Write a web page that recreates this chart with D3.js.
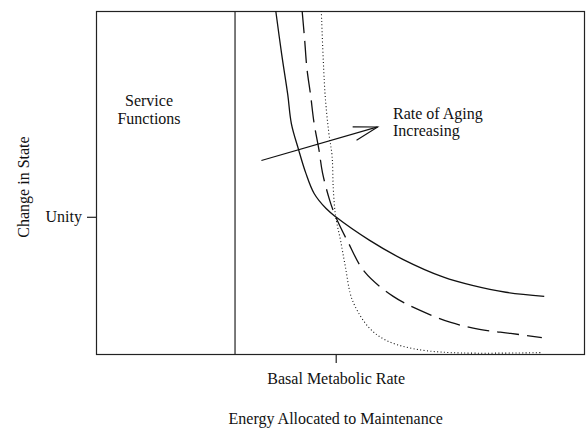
<!DOCTYPE html>
<html>
<head>
<meta charset="utf-8">
<script src="https://cdn.jsdelivr.net/npm/d3@7"></script>
<style>
  body { margin: 0; background: #fff; }
  svg text { font-family: "Liberation Serif", "Times New Roman", Times, serif; fill: #111; }
</style>
</head>
<body>
<div id="chart"></div>
<script>
// Energy allocated to maintenance (x, basal metabolic rate = 1) vs change in state (y, unity = 1)
const solidCurve = [
    [0.75, 2.50], [0.775, 2.18], [0.80, 1.89], [0.815, 1.68], [0.845, 1.49], [0.875, 1.32],
    [0.91, 1.17], [0.96, 1.06], [1.00, 1.00], [1.14, 0.83], [1.28, 0.69], [1.45, 0.56],
    [1.57, 0.50], [1.71, 0.45], [1.87, 0.42]
];
const dashedCurve = [
    [0.86, 2.50], [0.87, 2.30], [0.88, 2.08], [0.895, 1.89], [0.91, 1.68], [0.93, 1.49],
    [0.945, 1.32], [0.975, 1.12], [1.00, 1.00], [1.05, 0.82], [1.12, 0.60], [1.24, 0.42],
    [1.35, 0.32], [1.48, 0.23], [1.60, 0.18], [1.73, 0.15], [1.86, 0.12]
];
const dottedCurve = [
    [0.94, 2.50], [0.955, 1.91], [0.97, 1.63], [0.985, 1.44], [0.99, 1.20], [1.00, 1.00],
    [1.02, 0.83], [1.04, 0.64], [1.07, 0.39], [1.14, 0.19], [1.21, 0.10], [1.32, 0.04],
    [1.48, 0.01], [1.86, 0.01]
];
const serviceLimit = 0.58;
const agingArrow = [[0.69, 1.41], [1.175, 1.655]];
const xTicks = [1];
const xTickLabels = ['Basal Metabolic Rate'];
const yTicks = [1];
const yTickLabels = ['Unity'];

const width = 586, height = 430;
const margin = { top: 11, right: 1, bottom: 76, left: 96 };
const serif = '"Liberation Serif", "Times New Roman", Times, serif';
const fontSize = 16;

const svg = d3.select('#chart').append('svg')
    .attr('width', width)
    .attr('height', height)
    .style('font-family', serif);

const x = d3.scaleLinear().domain([0, 2.04]).range([margin.left, width - margin.right]);
const y = d3.scaleLinear().domain([0, 2.5]).range([height - margin.bottom, margin.top]);

// Open arrowhead
svg.append('defs').append('marker')
    .attr('id', 'openhead')
    .attr('markerUnits', 'userSpaceOnUse')
    .attr('viewBox', '-26 -9 28 18')
    .attr('refX', 0)
    .attr('refY', 0)
    .attr('markerWidth', 28)
    .attr('markerHeight', 18)
    .attr('orient', 'auto')
    .append('path')
    .attr('d', 'M -24 -7 L 0 0 L -24 7')
    .attr('fill', 'none')
    .attr('stroke', '#111')
    .attr('stroke-width', 1.1);

// Frame
svg.append('rect')
    .attr('x', x(0) + 0.5)
    .attr('y', y(2.5) + 0.5)
    .attr('width', x(2.04) - x(0) - 1)
    .attr('height', y(0) - y(2.5))
    .attr('fill', 'none')
    .attr('stroke', '#222')
    .attr('stroke-width', 1.2);

// Service functions boundary
svg.append('line')
    .attr('x1', x(serviceLimit)).attr('x2', x(serviceLimit))
    .attr('y1', y(2.5)).attr('y2', y(0))
    .attr('stroke', '#222')
    .attr('stroke-width', 1.2);

// Axes with single ticks
const xAxis = svg.append('g')
    .attr('transform', `translate(0,${y(0)})`)
    .call(d3.axisBottom(x).tickValues(xTicks).tickSize(9).tickPadding(10)
        .tickFormat((d, i) => xTickLabels[i]));
const yAxis = svg.append('g')
    .attr('transform', `translate(${x(0)},0)`)
    .call(d3.axisLeft(y).tickValues(yTicks).tickSize(9).tickPadding(5)
        .tickFormat((d, i) => yTickLabels[i]));
[xAxis, yAxis].forEach(g => {
    g.attr('font-family', serif).attr('font-size', fontSize);
    g.select('.domain').remove();
    g.selectAll('line').attr('stroke', '#222').attr('stroke-width', 1.2);
    g.selectAll('text').attr('fill', '#111');
});

// Curves
const line = d3.line()
    .x(d => x(d[0]))
    .y(d => y(d[1]))
    .curve(d3.curveCatmullRom.alpha(0.5));

const curves = [
    { data: solidCurve, dash: null, width: 1.3 },
    { data: dashedCurve, dash: '22,8', width: 1.3 },
    { data: dottedCurve, dash: '1,2.4', width: 1.1 }
];
curves.forEach(c => {
    svg.append('path')
        .datum(c.data)
        .attr('d', line)
        .attr('fill', 'none')
        .attr('stroke', '#111')
        .attr('stroke-width', c.width)
        .attr('stroke-dasharray', c.dash);
});

// Rate of aging arrow
svg.append('line')
    .attr('x1', x(agingArrow[0][0])).attr('y1', y(agingArrow[0][1]))
    .attr('x2', x(agingArrow[1][0])).attr('y2', y(agingArrow[1][1]))
    .attr('stroke', '#111')
    .attr('stroke-width', 1.2)
    .attr('marker-end', 'url(#openhead)');

// Annotations
const notes = svg.append('g').attr('font-size', fontSize);
notes.append('text').attr('x', 149).attr('y', 106).attr('text-anchor', 'middle').text('Service');
notes.append('text').attr('x', 149).attr('y', 124).attr('text-anchor', 'middle').text('Functions');
notes.append('text').attr('x', 393).attr('y', 119).text('Rate of Aging');
notes.append('text').attr('x', 393).attr('y', 136).text('Increasing');

// Axis titles
svg.append('text')
    .attr('x', x(1)).attr('y', 424)
    .attr('text-anchor', 'middle')
    .attr('font-size', fontSize)
    .text('Energy Allocated to Maintenance');
svg.append('text')
    .attr('transform', 'translate(29,187) rotate(-90)')
    .attr('text-anchor', 'middle')
    .attr('font-size', fontSize)
    .text('Change in State');
</script>
</body>
</html>
